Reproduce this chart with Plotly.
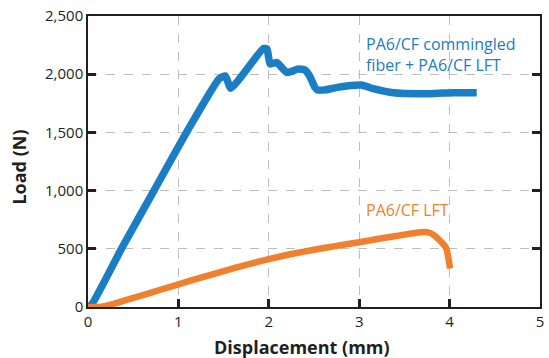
import plotly.graph_objects as go

# Load–displacement curves (displacement in mm, load in N)
hybrid_disp = [0, 0.04, 0.37, 0.73, 1.09, 1.45, 1.52, 1.58, 1.94, 1.98,
               2.015, 2.09, 2.20, 2.325, 2.40, 2.45, 2.51, 2.54, 2.635, 2.76,
               3.02, 3.165, 3.38, 3.785, 4.04, 4.30]
hybrid_load = [0, 20, 500, 1000, 1500, 1960, 1985, 1880, 2221, 2216,
               2088, 2100, 2015, 2045, 2036, 1987, 1887, 1865, 1867, 1887,
               1907, 1873, 1840, 1833, 1841, 1841]

lft_disp = [0, 0.15, 0.25, 0.4, 0.6, 0.8, 1.0, 1.25, 1.5, 1.75, 2.0, 2.25,
            2.5, 2.75, 3.0, 3.25, 3.5, 3.65, 3.72, 3.78, 3.83, 3.88, 3.92,
            3.96, 3.985, 4.005]
lft_load = [0, 2, 20, 55, 100, 148, 195, 253, 308, 362, 412, 455,
            492, 525, 557, 590, 622, 640, 645, 638, 615, 580, 550,
            510, 430, 330]

x_ticks = [0, 1, 2, 3, 4, 5]
y_ticks = [0, 500, 1000, 1500, 2000, 2500]

BLUE = "#1b7dc4"
ORANGE = "#f0802e"
INK = "#231f20"
FONT = "Open Sans"

fig = go.Figure()
fig.add_trace(go.Scatter(x=hybrid_disp, y=hybrid_load, mode="lines",
                         line=dict(color=BLUE, width=7.5, shape="spline",
                                   smoothing=0.5),
                         showlegend=False))
fig.add_trace(go.Scatter(x=lft_disp, y=lft_load, mode="lines",
                         line=dict(color=ORANGE, width=6.5, shape="spline",
                                   smoothing=0.5),
                         showlegend=False))

axis_common = dict(
    showgrid=True, gridcolor="#bdbdbd", gridwidth=1, griddash="dash",
    zeroline=False, showline=True, linecolor=INK, linewidth=1.5,
    ticks="inside", ticklen=8, tickwidth=2.5, tickcolor=INK,
    tickfont=dict(family=FONT, size=15, color=INK),
)

fig.update_xaxes(range=[0, 5], tickvals=x_ticks, mirror=True, **axis_common)
fig.update_yaxes(range=[0, 2500], tickvals=y_ticks, tickformat=",",
                 mirror="ticks", **axis_common)

fig.add_annotation(text="PA6/CF commingled<br>fiber + PA6/CF LFT",
                   x=3.056, y=2166, xanchor="left", yanchor="middle",
                   align="left", showarrow=False,
                   font=dict(family=FONT, size=16, color=BLUE))
fig.add_annotation(text="PA6/CF LFT", x=3.056, y=837, xanchor="left",
                   yanchor="middle", showarrow=False,
                   font=dict(family=FONT, size=16, color=ORANGE))

fig.add_annotation(text="<b>Displacement (mm)</b>", xref="paper", yref="paper",
                   x=0.474, y=-0.138, xanchor="center", yanchor="middle",
                   showarrow=False, font=dict(family=FONT, size=18, color=INK))
fig.add_annotation(text="<b>Load (N)</b>", xref="paper", yref="paper",
                   x=-0.153, y=0.482, xanchor="center", yanchor="middle",
                   textangle=-90, showarrow=False,
                   font=dict(family=FONT, size=18, color=INK))

fig.update_layout(
    width=549, height=358,
    margin=dict(l=88, r=5, t=15, b=51),
    plot_bgcolor="white", paper_bgcolor="white",
)

fig.write_html("out.html")
